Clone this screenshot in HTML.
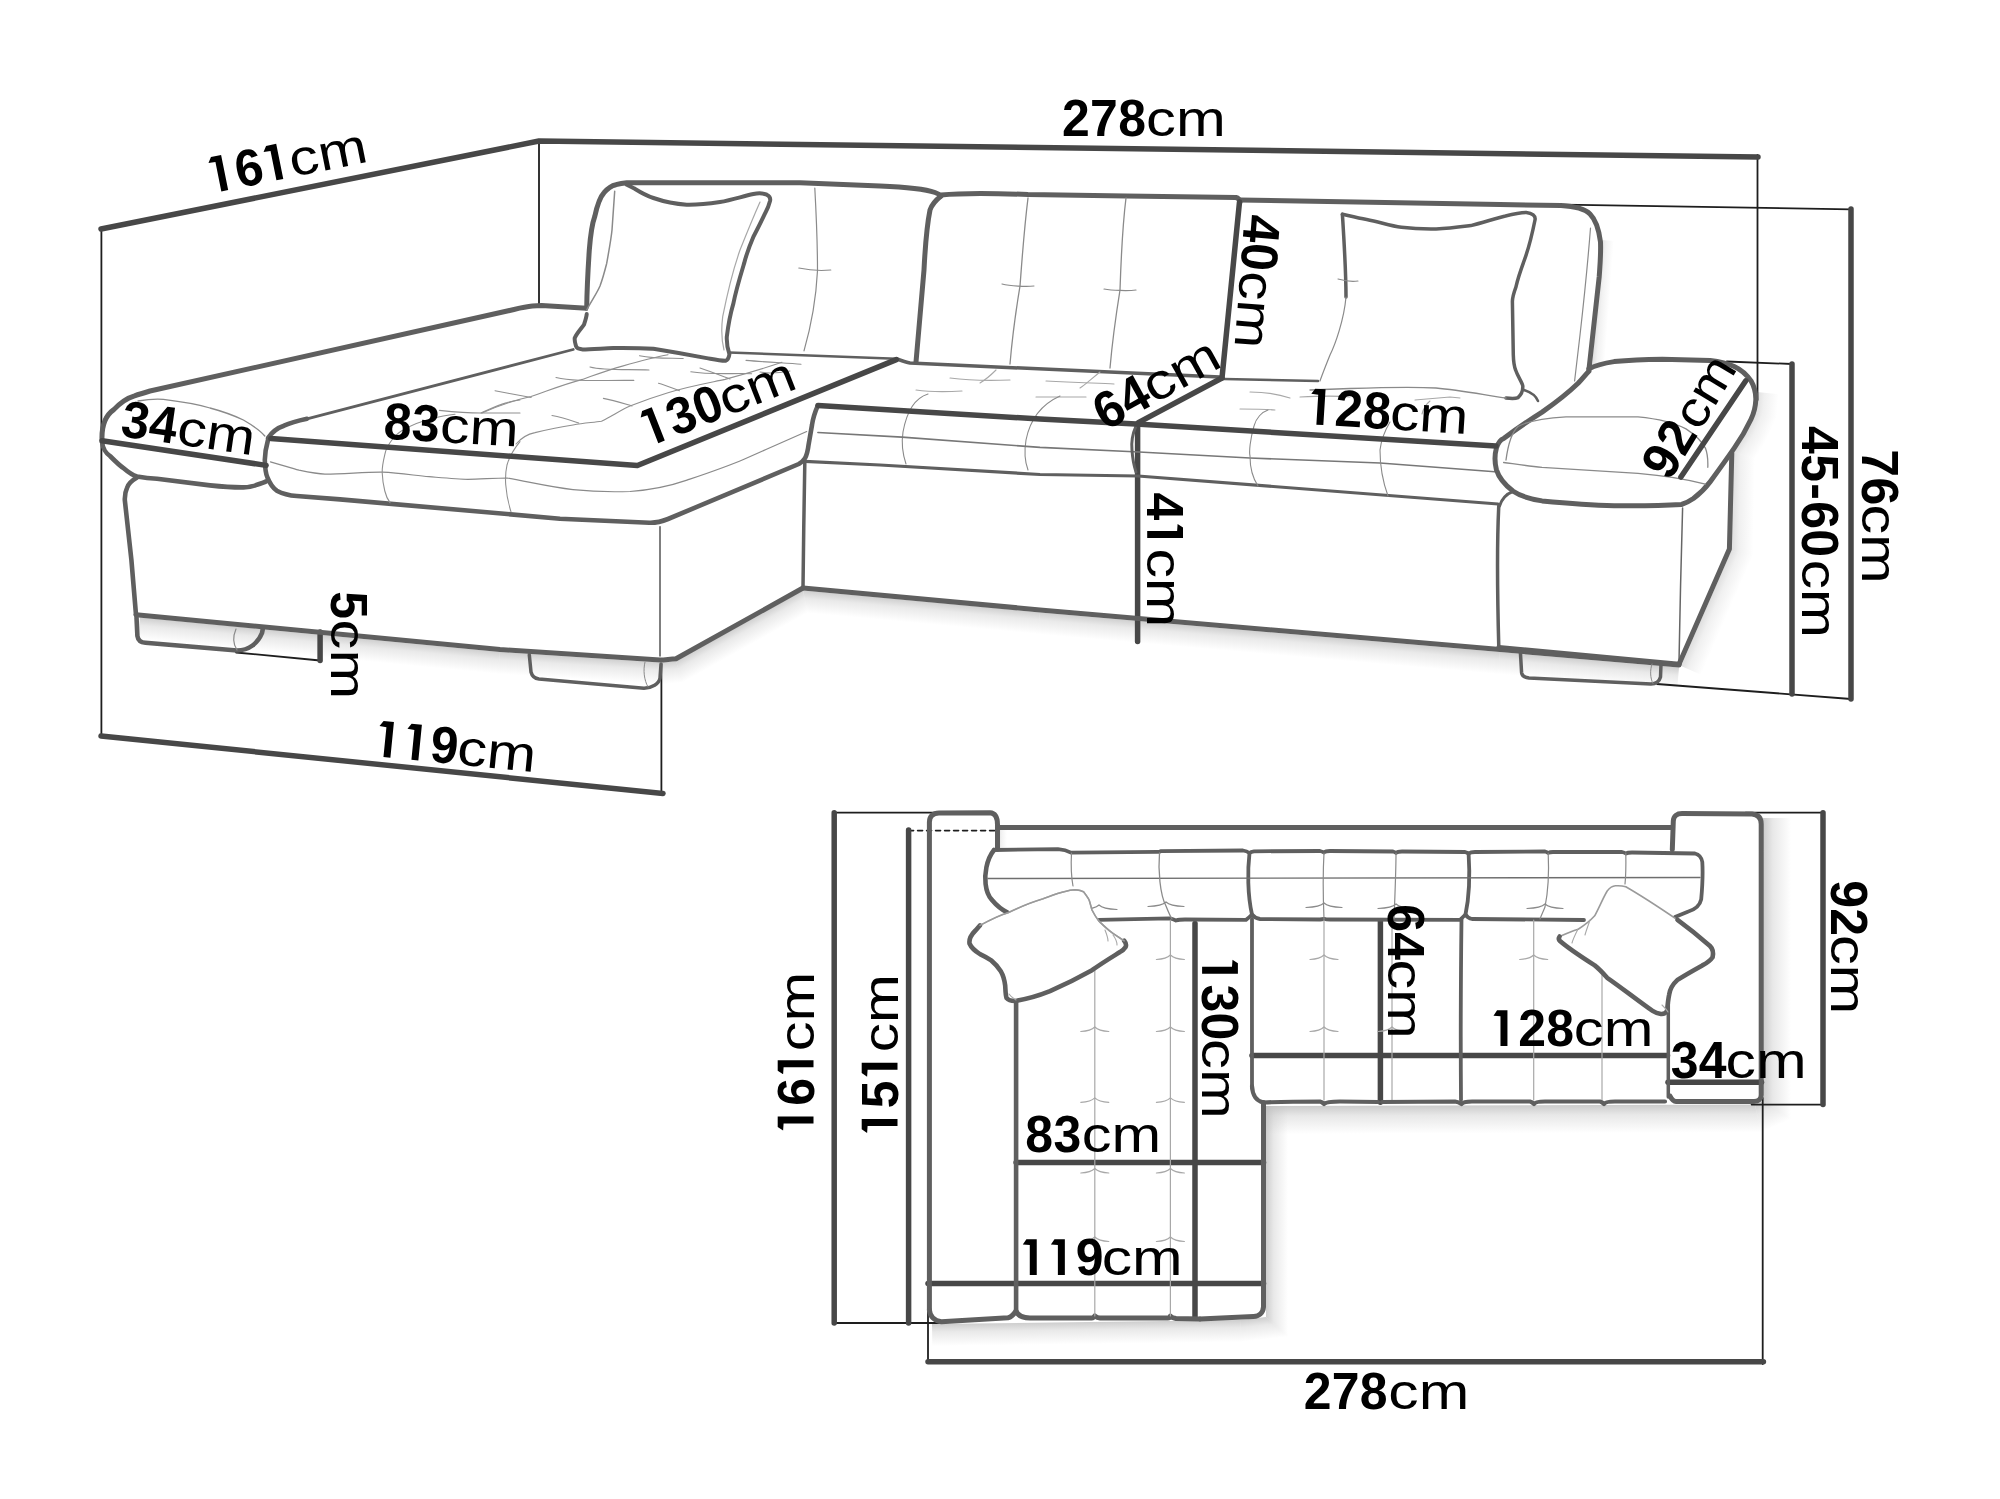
<!DOCTYPE html>
<html><head><meta charset="utf-8"><style>
html,body{margin:0;padding:0;background:#fff;}
svg{display:block}
text{font-family:"Liberation Sans",sans-serif;fill:#000;}
path{stroke-linecap:round;stroke-linejoin:round;}
</style></head><body>
<svg width="2000" height="1499" viewBox="0 0 2000 1499">
<rect width="2000" height="1499" fill="#fff"/>
<defs>
<filter id="bl" x="-20%" y="-50%" width="140%" height="200%"><feGaussianBlur stdDeviation="6"/></filter>
<filter id="bl2" x="-20%" y="-50%" width="140%" height="200%"><feGaussianBlur stdDeviation="4"/></filter>
</defs>
<linearGradient id="sg1" gradientUnits="userSpaceOnUse" x1="140.0" y1="617.5" x2="137.9" y2="639.4"><stop offset="0" stop-color="#bdbdbd" stop-opacity="0.72"/><stop offset="0.35" stop-color="#bdbdbd" stop-opacity="0.324"/><stop offset="1" stop-color="#bdbdbd" stop-opacity="0"/></linearGradient>
<path d="M140.0,617.5 L500.0,652.0 L498.2,673.9 L137.9,639.4 Z" fill="url(#sg1)" stroke="none"/>
<linearGradient id="sg2" gradientUnits="userSpaceOnUse" x1="500.0" y1="652.0" x2="498.6" y2="674.0"><stop offset="0" stop-color="#bdbdbd" stop-opacity="0.72"/><stop offset="0.35" stop-color="#bdbdbd" stop-opacity="0.324"/><stop offset="1" stop-color="#bdbdbd" stop-opacity="0"/></linearGradient>
<path d="M500.0,652.0 L660.0,662.5 L660.3,684.6 L498.2,673.9 Z" fill="url(#sg2)" stroke="none"/>
<linearGradient id="sg3" gradientUnits="userSpaceOnUse" x1="660.0" y1="662.5" x2="662.1" y2="684.4"><stop offset="0" stop-color="#bdbdbd" stop-opacity="0.72"/><stop offset="0.35" stop-color="#bdbdbd" stop-opacity="0.324"/><stop offset="1" stop-color="#bdbdbd" stop-opacity="0"/></linearGradient>
<path d="M660.0,662.5 L676.0,661.0 L682.6,682.5 L660.3,684.6 Z" fill="url(#sg3)" stroke="none"/>
<linearGradient id="sg4" gradientUnits="userSpaceOnUse" x1="676.0" y1="661.0" x2="686.7" y2="680.2"><stop offset="0" stop-color="#bdbdbd" stop-opacity="0.72"/><stop offset="0.35" stop-color="#bdbdbd" stop-opacity="0.324"/><stop offset="1" stop-color="#bdbdbd" stop-opacity="0"/></linearGradient>
<path d="M676.0,661.0 L803.0,590.5 L807.7,613.0 L682.6,682.5 Z" fill="url(#sg4)" stroke="none"/>
<linearGradient id="sg5" gradientUnits="userSpaceOnUse" x1="803.0" y1="590.5" x2="801.0" y2="612.4"><stop offset="0" stop-color="#bdbdbd" stop-opacity="0.72"/><stop offset="0.35" stop-color="#bdbdbd" stop-opacity="0.324"/><stop offset="1" stop-color="#bdbdbd" stop-opacity="0"/></linearGradient>
<path d="M803.0,590.5 L1040.0,612.4 L1038.0,634.3 L807.7,613.0 Z" fill="url(#sg5)" stroke="none"/>
<linearGradient id="sg6" gradientUnits="userSpaceOnUse" x1="1040.0" y1="612.4" x2="1038.1" y2="634.3"><stop offset="0" stop-color="#bdbdbd" stop-opacity="0.72"/><stop offset="0.35" stop-color="#bdbdbd" stop-opacity="0.324"/><stop offset="1" stop-color="#bdbdbd" stop-opacity="0"/></linearGradient>
<path d="M1040.0,612.4 L1500.0,652.1 L1498.1,674.0 L1038.0,634.3 Z" fill="url(#sg6)" stroke="none"/>
<linearGradient id="sg7" gradientUnits="userSpaceOnUse" x1="1500.0" y1="652.1" x2="1498.1" y2="674.0"><stop offset="0" stop-color="#bdbdbd" stop-opacity="0.72"/><stop offset="0.35" stop-color="#bdbdbd" stop-opacity="0.324"/><stop offset="1" stop-color="#bdbdbd" stop-opacity="0"/></linearGradient>
<path d="M1500.0,652.1 L1679.0,667.5 L1677.1,689.4 L1498.1,674.0 Z" fill="url(#sg7)" stroke="none"/>
<linearGradient id="sg8" gradientUnits="userSpaceOnUse" x1="1757.0" y1="392.0" x2="1778.9" y2="394.2"><stop offset="0" stop-color="#bdbdbd" stop-opacity="0.5"/><stop offset="0.35" stop-color="#bdbdbd" stop-opacity="0.225"/><stop offset="1" stop-color="#bdbdbd" stop-opacity="0"/></linearGradient>
<path d="M1757.0,392.0 L1755.0,412.0 L1776.5,417.8 L1778.9,394.2 Z" fill="url(#sg8)" stroke="none"/>
<linearGradient id="sg9" gradientUnits="userSpaceOnUse" x1="1755.0" y1="412.0" x2="1775.1" y2="421.0"><stop offset="0" stop-color="#bdbdbd" stop-opacity="0.5"/><stop offset="0.35" stop-color="#bdbdbd" stop-opacity="0.225"/><stop offset="1" stop-color="#bdbdbd" stop-opacity="0"/></linearGradient>
<path d="M1755.0,412.0 L1746.0,432.0 L1765.4,442.6 L1776.5,417.8 Z" fill="url(#sg9)" stroke="none"/>
<linearGradient id="sg10" gradientUnits="userSpaceOnUse" x1="1746.0" y1="432.0" x2="1764.4" y2="444.0"><stop offset="0" stop-color="#bdbdbd" stop-opacity="0.5"/><stop offset="0.35" stop-color="#bdbdbd" stop-opacity="0.225"/><stop offset="1" stop-color="#bdbdbd" stop-opacity="0"/></linearGradient>
<path d="M1746.0,432.0 L1733.0,452.0 L1754.9,458.7 L1765.4,442.6 Z" fill="url(#sg10)" stroke="none"/>
<linearGradient id="sg11" gradientUnits="userSpaceOnUse" x1="1733.0" y1="452.0" x2="1755.0" y2="452.4"><stop offset="0" stop-color="#bdbdbd" stop-opacity="0.5"/><stop offset="0.35" stop-color="#bdbdbd" stop-opacity="0.225"/><stop offset="1" stop-color="#bdbdbd" stop-opacity="0"/></linearGradient>
<path d="M1733.0,452.0 L1731.0,551.0 L1752.9,555.8 L1754.9,458.7 Z" fill="url(#sg11)" stroke="none"/>
<linearGradient id="sg12" gradientUnits="userSpaceOnUse" x1="1731.0" y1="551.0" x2="1751.2" y2="559.8"><stop offset="0" stop-color="#bdbdbd" stop-opacity="0.5"/><stop offset="0.35" stop-color="#bdbdbd" stop-opacity="0.225"/><stop offset="1" stop-color="#bdbdbd" stop-opacity="0"/></linearGradient>
<path d="M1731.0,551.0 L1681.0,666.0 L1701.2,674.8 L1752.9,555.8 Z" fill="url(#sg12)" stroke="none"/>
<linearGradient id="sg13" gradientUnits="userSpaceOnUse" x1="1602.0" y1="240.0" x2="1614.0" y2="240.9"><stop offset="0" stop-color="#bdbdbd" stop-opacity="0.45"/><stop offset="0.35" stop-color="#bdbdbd" stop-opacity="0.2025"/><stop offset="1" stop-color="#bdbdbd" stop-opacity="0"/></linearGradient>
<path d="M1602.0,240.0 L1592.0,368.0 L1604.0,368.9 L1614.0,240.9 Z" fill="url(#sg13)" stroke="none"/>
<linearGradient id="sg14" gradientUnits="userSpaceOnUse" x1="1266.0" y1="1106.0" x2="1288.0" y2="1106.0"><stop offset="0" stop-color="#bdbdbd" stop-opacity="0.75"/><stop offset="0.35" stop-color="#bdbdbd" stop-opacity="0.3375"/><stop offset="1" stop-color="#bdbdbd" stop-opacity="0"/></linearGradient>
<path d="M1266.0,1106.0 L1266.0,1317.0 L1288.0,1336.6 L1288.0,1106.0 Z" fill="url(#sg14)" stroke="none"/>
<linearGradient id="sg15" gradientUnits="userSpaceOnUse" x1="1266.0" y1="1317.0" x2="1268.5" y2="1338.9"><stop offset="0" stop-color="#bdbdbd" stop-opacity="0.75"/><stop offset="0.35" stop-color="#bdbdbd" stop-opacity="0.3375"/><stop offset="1" stop-color="#bdbdbd" stop-opacity="0"/></linearGradient>
<path d="M1266.0,1317.0 L1240.0,1320.0 L1241.4,1342.0 L1288.0,1336.6 Z" fill="url(#sg15)" stroke="none"/>
<linearGradient id="sg16" gradientUnits="userSpaceOnUse" x1="1240.0" y1="1320.0" x2="1240.3" y2="1342.0"><stop offset="0" stop-color="#bdbdbd" stop-opacity="0.75"/><stop offset="0.35" stop-color="#bdbdbd" stop-opacity="0.3375"/><stop offset="1" stop-color="#bdbdbd" stop-opacity="0"/></linearGradient>
<path d="M1240.0,1320.0 L932.0,1324.0 L932.3,1346.0 L1241.4,1342.0 Z" fill="url(#sg16)" stroke="none"/>
<linearGradient id="sg17" gradientUnits="userSpaceOnUse" x1="1763.0" y1="818.0" x2="1791.0" y2="818.0"><stop offset="0" stop-color="#bdbdbd" stop-opacity="0.78"/><stop offset="0.35" stop-color="#bdbdbd" stop-opacity="0.35100000000000003"/><stop offset="1" stop-color="#bdbdbd" stop-opacity="0"/></linearGradient>
<path d="M1763.0,818.0 L1763.0,1101.0 L1791.0,1119.3 L1791.0,818.0 Z" fill="url(#sg17)" stroke="none"/>
<linearGradient id="sg18" gradientUnits="userSpaceOnUse" x1="1763.0" y1="1101.0" x2="1774.2" y2="1126.7"><stop offset="0" stop-color="#bdbdbd" stop-opacity="0.78"/><stop offset="0.35" stop-color="#bdbdbd" stop-opacity="0.35100000000000003"/><stop offset="1" stop-color="#bdbdbd" stop-opacity="0"/></linearGradient>
<path d="M1763.0,1101.0 L1755.0,1104.5 L1760.9,1132.5 L1791.0,1119.3 Z" fill="url(#sg18)" stroke="none"/>
<linearGradient id="sg19" gradientUnits="userSpaceOnUse" x1="1755.0" y1="1104.5" x2="1755.1" y2="1132.5"><stop offset="0" stop-color="#bdbdbd" stop-opacity="0.78"/><stop offset="0.35" stop-color="#bdbdbd" stop-opacity="0.35100000000000003"/><stop offset="1" stop-color="#bdbdbd" stop-opacity="0"/></linearGradient>
<path d="M1755.0,1104.5 L1266.0,1106.0 L1266.1,1134.0 L1760.9,1132.5 Z" fill="url(#sg19)" stroke="none"/>
<linearGradient id="sg20" gradientUnits="userSpaceOnUse" x1="999.0" y1="849.0" x2="1007.0" y2="849.0"><stop offset="0" stop-color="#bdbdbd" stop-opacity="0.4"/><stop offset="0.35" stop-color="#bdbdbd" stop-opacity="0.18000000000000002"/><stop offset="1" stop-color="#bdbdbd" stop-opacity="0"/></linearGradient>
<path d="M999.0,849.0 L999.0,828.0 L1007.0,828.0 L1007.0,849.0 Z" fill="url(#sg20)" stroke="none"/>
<path d="M101.4,229 L101.4,737" stroke="#1e1e1e" stroke-width="1.8"  fill="none"/>
<path d="M539,141 L539,307" stroke="#1e1e1e" stroke-width="1.8"  fill="none"/>
<path d="M661.4,664 L661.4,795" stroke="#1e1e1e" stroke-width="1.8"  fill="none"/>
<path d="M1757.5,155 L1757.5,400" stroke="#1e1e1e" stroke-width="1.8"  fill="none"/>
<path d="M1562.7,204.6 L1851,209.4" stroke="#1e1e1e" stroke-width="1.8"  fill="none"/>
<path d="M1726.8,361.5 L1792,364" stroke="#1e1e1e" stroke-width="1.8"  fill="none"/>
<path d="M1657,684 L1851,699" stroke="#1e1e1e" stroke-width="1.8"  fill="none"/>
<path d="M236,652.5 L320,660.5" stroke="#1e1e1e" stroke-width="1.8"  fill="none"/>
<path d="M101,229 L539,141 L1758,157" stroke="#474747" stroke-width="5.5"  fill="none"/>
<path d="M101,736 L663,793.5" stroke="#474747" stroke-width="5.5"  fill="none"/>
<path d="M1851,209 L1851,699" stroke="#474747" stroke-width="5.5"  fill="none"/>
<path d="M1792,364 L1792,694" stroke="#474747" stroke-width="5.5"  fill="none"/>
<path d="M1137.6,425 L1137.6,641.5" stroke="#474747" stroke-width="5.5"  fill="none"/>
<path d="M320.1,632 L320.1,660.5" stroke="#474747" stroke-width="5.5"  fill="none"/>
<path d="M102,440 C101.5,425 106,415 113.8,409.6 C120,403 127,398 134.5,395.8 C140,394 145,392.5 150,391 L514,309.5 C522,307.6 528,306.5 532.4,306.1 C536,305.7 539,305.6 541.6,305.6 L586.7,308.2" stroke="#5f5f5f" stroke-width="5"  fill="none"/>
<path d="M586.7,308.2 C587,285 588.5,262 589.3,250 C590.5,235 592,224 594.7,216.7 C597,206 600,197 604,192.7 C608,188 612,185.5 616,184.7 C620,183.5 623,183 626.7,182.7 L800,182.7 L880,186 C905,187 925,189 935,192.5 C938,193.5 940,195 941,196" stroke="#5f5f5f" stroke-width="5"  fill="none"/>
<path d="M102,442 C103,450 106,453 110,456 C116,462 120,466 123.4,468 C128,472 132,475 137,476.5 C145,478 150,478.5 157,478.7 L210,485.4 C225,487 235,487.5 243.4,487.4 C250,487 254,486 257,484.7 C261,483.5 264,482.5 266.1,481.4" stroke="#5f5f5f" stroke-width="4.6"  fill="none"/>
<path d="M138,401 C150,399 158,399 163.4,399.4 C185,402 200,405 210,408 C225,412 235,416 243.4,420 C252,425 260,430 264.8,436" stroke="#8a8a8a" stroke-width="1.3"  fill="none"/>
<path d="M137,477.5 C131,481 128,484 127,488 C125,492 124.7,496 124.8,500 L131.4,560 L136,614.8" stroke="#5f5f5f" stroke-width="4.6"  fill="none"/>
<path d="M136.5,617.5 L137.4,636 C138,640 141,642.5 145.4,642.8 L237,650.5 C249,650.5 258,643 262,633 L263,628" stroke="#5f5f5f" stroke-width="4.6"  fill="none"/>
<path d="M236,629 C233,636 233,644 237,650" stroke="#8a8a8a" stroke-width="1.2"  fill="none"/>
<path d="M268,438 C272,432 277,428 284,425.7 C292,422 299,420.5 307,418.8" stroke="#5f5f5f" stroke-width="4.6"  fill="none"/>
<path d="M307,418.8 L573.2,349.5" stroke="#5f5f5f" stroke-width="2.8"  fill="none"/>
<path d="M268,440 C266,447 265,453 264.8,460 C265,468 265.5,473 267.4,477.4 C270,484 273,488 276.8,490.7 C283,494 290,495.5 296.8,496 L340,499.4 L560,518.7 L649.4,522.7 C657,523 663,521 668,519 L798.8,464 C804,461 807,458 808.6,444.6 L812,425 C813,418 815,412 817.9,405.4" stroke="#5f5f5f" stroke-width="4.6"  fill="none"/>
<path d="M270.4,461.8 C285,466 292,468.5 299,470.2 C310,472.5 318,474 325,474.1 C345,474 365,472 382.2,472.2 C400,473 415,475.5 429,476.7 C445,478 458,479.2 468,479.3 C480,479.2 495,478 507,478 C530,482 550,487 573,489.6 C595,492 615,492 630,491.5 C650,490 670,486 687,480.1 C708,473 726,467 744,459.2 C765,450 785,441 806.7,431.5" stroke="#8a8a8a" stroke-width="1.2"  fill="none"/>
<path d="M392.6,439 C388,445 385.5,450 384.8,454.6 C383,462 382,468 382.2,472.8 C382.5,480 383.5,486 384.8,491 C386,496 388,500 390,502.7" stroke="#909090" stroke-width="1.1"  fill="none"/>
<path d="M520,441.6 C513,450 509,458 507,465 C505.5,472 505.3,479 505.7,484.5 C506.5,495 508.5,504 511,511.8" stroke="#909090" stroke-width="1.1"  fill="none"/>
<path d="M392.6,439 C396,435 399,432 403,430 C412,425 420,421.5 429,419.5 C438,417 447,415 455,414.3" stroke="#909090" stroke-width="1.1"  fill="none"/>
<path d="M439.4,410.4 C455,412 470,413 481,413 L520,413" stroke="#909090" stroke-width="1.1"  fill="none"/>
<path d="M481,413 C490,409 498,405 507,402.6 C512,401 516,400.5 520,400" stroke="#909090" stroke-width="1.1"  fill="none"/>
<path d="M482,413 C500,405 515,400 531,396.5 C550,390 565,384 582.5,379.4 C595,375 608,370 622.4,366.1 C640,361 655,357 668,354.7" stroke="#909090" stroke-width="1.1"  fill="none"/>
<path d="M516,444 C522,437 528,434 535,432.6 C550,429 560,427 573,425 C585,423 593,422.5 601.5,421.2 C612,416 621,410 630,406 C645,400 657,396 668,392.7 C690,386 708,383 725,379.4 C745,374 765,368 782,362.3" stroke="#909090" stroke-width="1.1"  fill="none"/>
<path d="M556,377.5 C575,382 600,380 633.8,380.4" stroke="#909090" stroke-width="1.1"  fill="none"/>
<path d="M590,367 C605,371 630,369 649,370" stroke="#909090" stroke-width="1.1"  fill="none"/>
<path d="M639.5,355.7 C655,359 670,358 683.2,358.5" stroke="#909090" stroke-width="1.1"  fill="none"/>
<path d="M690.8,371.8 C710,375 735,373 751.6,373.7" stroke="#909090" stroke-width="1.1"  fill="none"/>
<path d="M658.5,383.2 C665,385 672,388 679.4,390.8" stroke="#909090" stroke-width="1.1"  fill="none"/>
<path d="M603.4,398.4 C613,400 622,403 632,406" stroke="#909090" stroke-width="1.1"  fill="none"/>
<path d="M552,415.5 C562,417 570,420 578.7,423.1" stroke="#909090" stroke-width="1.1"  fill="none"/>
<path d="M495,390.8 C507,393 520,395.5 531.2,397.5" stroke="#909090" stroke-width="1.1"  fill="none"/>
<path d="M746,360.4 C765,362 785,363 801,364.2" stroke="#909090" stroke-width="1.1"  fill="none"/>
<path d="M700,368 C712,372 722,376 730,379" stroke="#909090" stroke-width="1.1"  fill="none"/>
<path d="M760,372 C770,374 780,373 790,371" stroke="#909090" stroke-width="1.1"  fill="none"/>
<path d="M814.8,188 C816,210 817.5,240 817.5,270.8 C816,300 810,330 804,350.8" stroke="#8a8a8a" stroke-width="1.2"  fill="none"/>
<path d="M798.8,268 C808,270 820,271 830.8,270" stroke="#8a8a8a" stroke-width="1.1"  fill="none"/>
<path d="M660,526.7 L660,656" stroke="#555" stroke-width="1.5"  fill="none"/>
<path d="M136,614.8 L500,649.5 L660,660 C665,660 670,659 676,658.8 L803,588" stroke="#5f5f5f" stroke-width="5"  fill="none"/>
<path d="M529.3,654.8 L531,672 C532,676 535,678.5 539,679 L644,688.2 C652,688 659,684 660,678 L661,664" stroke="#5f5f5f" stroke-width="3.5"  fill="none"/>
<path d="M645,662 C643,670 644,680 648,687" stroke="#8a8a8a" stroke-width="1"  fill="none"/>
<path d="M729,352.5 L896.3,358.7" stroke="#5f5f5f" stroke-width="2.6"  fill="none"/>
<path d="M620,349 L700,351" stroke="#8a8a8a" stroke-width="1.2"  fill="none"/>
<path d="M626.7,184.7 C630,186 632,187.5 634.7,188.7 C640,192 646,195.5 653.4,198 C665,202 675,204 686.7,204.7 C700,205 710,203.5 720,202 C732,200 742,196.5 753.4,194 C758,193 763,193 766.8,194.7 C769.5,196 770.5,198.5 770.1,200.7 C769,205 767.5,209 765.4,212.7 C761,222 757,230 753.4,236.7 C749,247 746,256 744.1,263.4 C740,277 736,290 733.4,303.4 C730,315 728,327 726.8,336.8 C726.5,344 728,350 729.4,354.1 C729,358 727.5,360 725.4,360.8 C719,360.5 712,359 706.7,358.1 C690,355 670,351.5 653.4,348.8 C640,348 625,348 613.4,348.1 C603,348.5 590,349.3 582.7,349.4 C578.5,349.2 576.5,348 576,346.1 C575,343 574.5,340 574.7,338.1 C577,333 581,329 584,324.7 C585.5,320 586.5,317 586.7,314.1" stroke="#5f5f5f" stroke-width="4" fill="#fff"/>
<path d="M586.7,310 C592,300 597,293 600,286 C603,278 605,270 606.7,263.4 C609,250 611,240 612,230 C613,215 614,200 614.7,191.3" stroke="#8a8a8a" stroke-width="1.5"  fill="none"/>
<path d="M760,202 C752,220 746,235 740,250 C733,270 727,295 722.7,316.7 C721,330 722,342 724,350" stroke="#a8a8a8" stroke-width="1.2"  fill="none"/>
<path d="M941,196 C936,200 932,204 930,210 C927,225 925,250 924,270 L916,362" stroke="#5f5f5f" stroke-width="5"  fill="none"/>
<path d="M941,195 C960,193 990,193 1028,194.5 L1126,196 L1236,197.5 C1238,198 1239.5,199.5 1240,202" stroke="#5f5f5f" stroke-width="5"  fill="none"/>
<path d="M896.3,358.7 C900,360 905,362 910,363 L1220,377" stroke="#5f5f5f" stroke-width="3.5"  fill="none"/>
<path d="M1028,198 C1024,230 1022,260 1020,286 C1016,310 1012,340 1010,364" stroke="#8a8a8a" stroke-width="1.3"  fill="none"/>
<path d="M1126,198 C1122,230 1121,260 1120,290 C1116,315 1112,345 1110,368" stroke="#8a8a8a" stroke-width="1.3"  fill="none"/>
<path d="M1002,284 C1010,286 1026,287 1034,286" stroke="#8a8a8a" stroke-width="1.2"  fill="none"/>
<path d="M1104,289 C1112,290.5 1128,291 1136,290" stroke="#8a8a8a" stroke-width="1.2"  fill="none"/>
<path d="M996,370 C990,376 985,380 980,383" stroke="#a8a8a8" stroke-width="1.1"  fill="none"/>
<path d="M950,378 C965,380 985,381 1010,380" stroke="#a8a8a8" stroke-width="1.1"  fill="none"/>
<path d="M916,390 C930,392 945,392 962,391" stroke="#a8a8a8" stroke-width="1.1"  fill="none"/>
<path d="M1046,381 C1080,383 1100,383 1114,384" stroke="#a8a8a8" stroke-width="1.1"  fill="none"/>
<path d="M1036,397 C1055,397 1070,397 1086,397" stroke="#a8a8a8" stroke-width="1.1"  fill="none"/>
<path d="M1100,372 C1090,380 1085,385 1080,388" stroke="#a8a8a8" stroke-width="1.1"  fill="none"/>
<path d="M928,394 C915,398 907,410 903,432 C901,445 903,455 906,464" stroke="#8a8a8a" stroke-width="1.1"  fill="none"/>
<path d="M1060,396 C1040,405 1030,420 1026,440 C1024,452 1025,462 1028,470" stroke="#8a8a8a" stroke-width="1.1"  fill="none"/>
<path d="M817.9,432.5 L902,437.1 L1040,447.4 L1139,452 L1250,458 L1380,463 L1498,472" stroke="#777" stroke-width="1.6"  fill="none"/>
<path d="M804.8,461.4 L880,465 L1040,474.5 L1138,476 L1498,504" stroke="#5f5f5f" stroke-width="3.2"  fill="none"/>
<path d="M804.8,463.3 C804,500 803.5,550 803,588" stroke="#5f5f5f" stroke-width="3.5"  fill="none"/>
<path d="M803,588 L1040,609.9 L1500,649.6 L1679,665" stroke="#5f5f5f" stroke-width="5"  fill="none"/>
<path d="M1136,426 C1132,435 1131.5,445 1132,450 C1132.5,458 1134,466 1136,472" stroke="#5f5f5f" stroke-width="3"  fill="none"/>
<path d="M1240,200 L1500,204.5 L1561,205.6 C1575,206.5 1585,209 1590,214 C1596,220 1599,230 1600.5,242 C1601,255 1600,265 1599.2,276.7 L1588.9,370" stroke="#5f5f5f" stroke-width="5"  fill="none"/>
<path d="M1590.5,228 C1588,260 1584,300 1580,335 L1574.6,381" stroke="#8a8a8a" stroke-width="1.2"  fill="none"/>
<path d="M1224,379 L1318,381" stroke="#5f5f5f" stroke-width="2.6"  fill="none"/>
<path d="M1342.4,214.3 C1350,216 1358,218 1366.7,219.5 C1380,222 1390,226 1401.4,227.3 C1415,229 1425,229.2 1436.1,229 C1450,228.5 1460,227 1470.8,225.6 C1482,223 1495,218.5 1505.5,216 C1515,213.5 1520,212.5 1526.3,212.5 C1532,213 1536,216 1535,220 C1532,235 1528,250 1524.6,259.4 C1520,272 1517,282 1515.9,287.1 C1513,295 1512.3,299 1512.4,302 L1513.3,354.8 C1513.5,362 1514,366 1515.6,370 C1518,377 1522,382 1522.8,386 C1523,391 1521,395 1518,397.6 C1515,399 1510,398.5 1506,398" stroke="#5f5f5f" stroke-width="3.5"  fill="none"/>
<path d="M1342.4,214.3 C1344,240 1346,270 1346,297" stroke="#5f5f5f" stroke-width="3.5"  fill="none"/>
<path d="M1346,297 C1344,320 1335,345 1330,355 C1326,365 1322,375 1320,381" stroke="#8a8a8a" stroke-width="1.2"  fill="none"/>
<path d="M1506,398 C1490,396 1460,390 1436,388 C1410,386.5 1380,387.5 1350,388.5 L1310,390" stroke="#8a8a8a" stroke-width="1.3"  fill="none"/>
<path d="M1524,390 C1530,392 1536,396 1538,401" stroke="#5f5f5f" stroke-width="2.5"  fill="none"/>
<path d="M1338,279 C1345,281 1352,282 1358,281" stroke="#8a8a8a" stroke-width="1.1"  fill="none"/>
<path d="M1250,392 C1265,392 1278,394 1290,398" stroke="#a8a8a8" stroke-width="1.1"  fill="none"/>
<path d="M1240,409 C1255,409 1265,409 1275,410" stroke="#a8a8a8" stroke-width="1.1"  fill="none"/>
<path d="M1268,410 C1262,412 1256,418 1254,426 C1250,440 1249,452 1250,456 C1250,470 1254,480 1258,486" stroke="#8a8a8a" stroke-width="1.1"  fill="none"/>
<path d="M1390,422 C1384,432 1381,442 1380,450 C1380,470 1384,485 1388,496" stroke="#8a8a8a" stroke-width="1.1"  fill="none"/>
<path d="M1415,400 L1450,397 L1460,398" stroke="#a8a8a8" stroke-width="1.1"  fill="none"/>
<path d="M1430,401 C1425,405 1423,410 1422,414" stroke="#a8a8a8" stroke-width="1.1"  fill="none"/>
<path d="M1300,397 C1320,396 1340,396 1350,397" stroke="#a8a8a8" stroke-width="1.1"  fill="none"/>
<path d="M1588.9,368.8 C1597,364.5 1605,363 1614.1,361.6 C1630,360 1645,359.4 1662.2,359.2 L1710.2,360.4 C1720,361.5 1728,363.5 1734.2,366.4 C1742,370 1747,375 1751,380.8 C1754.5,387 1756,394 1755.8,400 C1755.5,407 1754,413 1751,419.3 C1746,430 1740,440 1734.2,448.1 C1726,460 1718,471 1710.2,481.7 C1704,490 1698,495 1693.4,498.5 C1689,501.5 1685,503.5 1681.4,504.5 C1660,505.8 1640,506 1614.1,505.7 C1590,505 1565,503 1542.1,500.9 C1530,499 1520,496 1513.2,491.3 C1505,485 1499,478 1496.4,469.7 C1494.5,462 1494.5,455 1496.4,448.1 C1498,443 1500,440 1503.6,438.5 C1515,430 1528,421 1542.1,412.1 C1555,403 1568,393 1578.1,383.2 C1583,378 1586,374 1588.9,371.2" stroke="#5f5f5f" stroke-width="5"  fill="none"/>
<path d="M1506,460 C1508,445 1512,432 1518,426.5 C1530,420 1545,418 1566,416.9 L1638,416.9 C1660,419 1675,423 1686,428.9 C1697,436 1702,442 1705.4,448.1 C1708,455 1708,462 1707.8,467.3" stroke="#8a8a8a" stroke-width="1.3"  fill="none"/>
<path d="M1503.6,462.5 C1515,464 1528,466 1542,467.3 L1638,473.3 C1670,476 1690,480 1705.4,484.1" stroke="#8a8a8a" stroke-width="1.3"  fill="none"/>
<path d="M1498.8,505.7 C1497,540 1497.5,600 1498.8,647.5" stroke="#5f5f5f" stroke-width="3.5"  fill="none"/>
<path d="M1682.6,508.1 C1681,560 1680,610 1679,661.9" stroke="#666" stroke-width="1.5"  fill="none"/>
<path d="M1731.8,452.9 L1729.4,549 L1679,664.3" stroke="#5f5f5f" stroke-width="5"  fill="none"/>
<path d="M1498.8,647.5 L1679,664.3" stroke="#5f5f5f" stroke-width="5"  fill="none"/>
<path d="M1513.2,491.3 C1506,494 1502,498 1499.5,506" stroke="#5f5f5f" stroke-width="3"  fill="none"/>
<path d="M1520.4,652.3 L1521.6,672.7 C1522,676 1525,677.5 1529,678 L1651,684 C1656,684 1659.5,681 1660.5,677 L1661,664.3" stroke="#5f5f5f" stroke-width="3.5"  fill="none"/>
<path d="M1652,664 C1650,670 1650,678 1653,683.5" stroke="#8a8a8a" stroke-width="1"  fill="none"/>
<path d="M102,440.7 L266.1,465.4" stroke="#474747" stroke-width="5.5"  fill="none"/>
<path d="M270.8,438.6 L637.4,465.5 L896.3,359.6" stroke="#474747" stroke-width="5.5"  fill="none"/>
<path d="M1222,378 L1138.3,422.6" stroke="#474747" stroke-width="5.5"  fill="none"/>
<path d="M1239.5,202 L1222,378" stroke="#474747" stroke-width="5.5"  fill="none"/>
<path d="M817.9,405.4 L1040,419 L1136,424 L1496,446" stroke="#474747" stroke-width="5.5"  fill="none"/>
<path d="M1745.8,380.8 L1680.9,477" stroke="#474747" stroke-width="5.5"  fill="none"/>
<path d="M834.2,812.7 L936,812.7" stroke="#1e1e1e" stroke-width="1.8"  fill="none"/>
<path d="M834.2,1323 L944,1323" stroke="#1e1e1e" stroke-width="1.8"  fill="none"/>
<path d="M928,1310 L928,1363" stroke="#1e1e1e" stroke-width="1.8"  fill="none"/>
<path d="M1762.7,1098 L1762.7,1364" stroke="#1e1e1e" stroke-width="1.8"  fill="none"/>
<path d="M1745.5,812.7 L1824.2,812.7" stroke="#1e1e1e" stroke-width="1.8"  fill="none"/>
<path d="M1751.6,1104.6 L1824.2,1104.6" stroke="#1e1e1e" stroke-width="1.8"  fill="none"/>
<path d="M908.6,830.6 L997.5,830.6" stroke="#1e1e1e" stroke-width="1.6" stroke-dasharray="5,4" fill="none"/>
<path d="M834.2,812.7 L834.2,1323" stroke="#474747" stroke-width="5.5"  fill="none"/>
<path d="M908.6,830 L908.6,1323" stroke="#474747" stroke-width="5.5"  fill="none"/>
<path d="M928,1361.8 L1763.4,1361.8" stroke="#474747" stroke-width="5.5"  fill="none"/>
<path d="M1823,812.7 L1823,1104.6" stroke="#474747" stroke-width="5.5"  fill="none"/>
<path d="M1016.1,1162.4 L1263.5,1162.4" stroke="#474747" stroke-width="5.5"  fill="none"/>
<path d="M928,1283.6 L1263.5,1283.6" stroke="#474747" stroke-width="5.5"  fill="none"/>
<path d="M1195,923.4 L1195,1317" stroke="#474747" stroke-width="5.5"  fill="none"/>
<path d="M1380.4,920.7 L1380.4,1102.2" stroke="#474747" stroke-width="5.5"  fill="none"/>
<path d="M1252,1055.5 L1667.5,1055.5" stroke="#474747" stroke-width="5.5"  fill="none"/>
<path d="M1668,1082.3 L1761.5,1082.3" stroke="#474747" stroke-width="5.5"  fill="none"/>
<path d="M929.4,1310 L929.4,822 C929.4,816 933,813 939,813 L990,812.7 C995,813 997.5,817 997.5,824.7 L997.5,849" stroke="#5f5f5f" stroke-width="5"  fill="none"/>
<path d="M997.5,827.4 L1672.5,827.4" stroke="#5f5f5f" stroke-width="5"  fill="none"/>
<path d="M1672.3,849.6 L1673.3,821 C1673.5,816 1677,813.5 1682,813.5 L1752,814 C1758,814.5 1761.2,818 1761.2,824 L1761.2,1095 C1761.2,1099 1758,1101.5 1754,1101.5 L1676,1101.5 C1673,1101.5 1671.5,1099 1670,1096" stroke="#5f5f5f" stroke-width="5"  fill="none"/>
<path d="M1668.3,1003 L1668.3,1097" stroke="#5f5f5f" stroke-width="3.5"  fill="none"/>
<path d="M994,850 C986,860 984.5,875 985.6,884 C986.5,892 989,897 992,900 C997,906 1002,910 1008,912.8" stroke="#5f5f5f" stroke-width="4.6"  fill="none"/>
<path d="M994,850 L1058,849.1 C1063,849.5 1068,851 1071,852.6 L1157.8,851.9 C1159,852 1160,851.5 1160.6,851.2 L1243,850.5 C1246,851 1248,852 1249.5,853 C1250.5,852 1252,851.5 1254,851.3 L1320,851 C1322,851.5 1323,852 1324,852.5 C1325,851.5 1327,851 1330,851 L1393,851.5 C1394.5,852 1395.5,852.5 1396,853 C1397,852 1399,851.5 1402,851.5 L1465,852 C1466.5,852.5 1467.5,853 1468.6,853.5 C1470,852.5 1472,852 1475,852 L1545,851.5 C1546.5,852 1547.5,852.5 1548.2,853 C1549,852.5 1551,852 1553,852 L1622,852 C1624,852.5 1625,853 1625.8,853.5 C1627,852.8 1629,852.5 1632,852.5 L1695,853.5 C1699,854.5 1701.5,857.5 1702.3,862 C1702.8,870 1702.5,885 1701.2,899.3 C1700,905 1695,909.5 1687.8,911.7 L1675,917" stroke="#5f5f5f" stroke-width="3.8"  fill="none"/>
<path d="M1099,919.8 L1170,918.4 C1173,919 1175,920 1176,920.5 C1178,919.8 1180,919.5 1185,919.5 L1246,919.8 C1248,918.5 1250,916.5 1252,914.5 C1254,917 1256,918.5 1260,919 L1320,919.5 C1322,919.2 1323,919 1324,918.8 C1325,919.2 1327,919.5 1330,919.5 L1460,919.8 C1462,918 1464,916 1465.5,914.5 C1467,917 1469,918.5 1472,919 L1584,920" stroke="#5f5f5f" stroke-width="3.8"  fill="none"/>
<path d="M1249.5,853 C1247.5,870 1247.5,895 1252,914.5" stroke="#5f5f5f" stroke-width="3.8"  fill="none"/>
<path d="M1468.6,853.5 C1470,875 1469,898 1465.5,914.5" stroke="#5f5f5f" stroke-width="3.8"  fill="none"/>
<path d="M988,878.5 L1700,877.5" stroke="#6e6e6e" stroke-width="1.4"  fill="none"/>
<path d="M1071.5,853 C1071,862 1071.5,878 1073,886" stroke="#8a8a8a" stroke-width="1.2"  fill="none"/>
<path d="M1159.5,853 C1158,870 1160,895 1166,906 C1168,911 1170,916 1172,919" stroke="#8a8a8a" stroke-width="1.3"  fill="none"/>
<path d="M1324,853 C1323,870 1323,895 1324,919" stroke="#8a8a8a" stroke-width="1.2"  fill="none"/>
<path d="M1396,853 C1396,870 1395,895 1394,919" stroke="#8a8a8a" stroke-width="1.2"  fill="none"/>
<path d="M1548.2,853 C1549,870 1548,892 1545,907 C1543,912 1541,916 1540,919" stroke="#8a8a8a" stroke-width="1.2"  fill="none"/>
<path d="M1625.8,853 C1626,865 1626,875 1625,884" stroke="#8a8a8a" stroke-width="1.2"  fill="none"/>
<path d="M1148,906.5 Q1162,906 1166,902 Q1170,906 1184,906.5" stroke="#8a8a8a" stroke-width="1.2"  fill="none"/>
<path d="M1306,907.5 Q1320,907 1324,903 Q1328,907 1342,907.5" stroke="#8a8a8a" stroke-width="1.2"  fill="none"/>
<path d="M1378,908.5 Q1392,908 1396,904 Q1400,908 1414,908.5" stroke="#8a8a8a" stroke-width="1.2"  fill="none"/>
<path d="M1527,908.5 Q1541,908 1545,904 Q1549,908 1563,908.5" stroke="#8a8a8a" stroke-width="1.2"  fill="none"/>
<path d="M1081,909.5 Q1095,909 1099,905 Q1103,909 1117,909.5" stroke="#8a8a8a" stroke-width="1.2"  fill="none"/>
<path d="M1252,919 C1252.5,960 1251.5,1040 1252,1088" stroke="#5f5f5f" stroke-width="3.8"  fill="none"/>
<path d="M1461.5,919 C1461,960 1460.5,1040 1461,1100" stroke="#5f5f5f" stroke-width="3.8"  fill="none"/>
<path d="M1324,920 L1324,1100" stroke="#a8a8a8" stroke-width="1.2"  fill="none"/>
<path d="M1392,920 L1392,1100" stroke="#a8a8a8" stroke-width="1.2"  fill="none"/>
<path d="M1533.7,920 L1533.7,1100" stroke="#a8a8a8" stroke-width="1.2"  fill="none"/>
<path d="M1602,975 L1602,1100" stroke="#a8a8a8" stroke-width="1.2"  fill="none"/>
<path d="M1310,959.5 Q1320,959 1324,955 Q1328,959 1338,959.5" stroke="#a8a8a8" stroke-width="1.2"  fill="none"/>
<path d="M1310,1031.5 Q1320,1031 1324,1027 Q1328,1031 1338,1031.5" stroke="#a8a8a8" stroke-width="1.2"  fill="none"/>
<path d="M1519.7,959.5 Q1529.7,959 1533.7,955 Q1537.7,959 1547.7,959.5" stroke="#a8a8a8" stroke-width="1.2"  fill="none"/>
<path d="M1378,1031.5 Q1388,1031 1392,1027 Q1396,1031 1406,1031.5" stroke="#a8a8a8" stroke-width="1.2"  fill="none"/>
<path d="M1252,1086 C1252.5,1096 1256,1101 1263.5,1102.5 C1275,1102 1290,1101.5 1320,1101.5 C1322,1102 1323,1103 1324,1104 C1326,1102 1330,1101.5 1340,1101.5 L1378,1102 M1382,1102 L1455,1101.5 C1458,1102 1460,1103 1461.5,1104 C1463,1102 1466,1101.5 1472,1101.5 L1530,1101.5 C1532,1102 1533,1103 1534,1104 C1535,1102 1538,1101.5 1545,1101.5 L1600,1101.5 C1602,1102 1603,1103 1604,1104 C1605,1102 1608,1101.5 1615,1101.5 L1665,1101.5" stroke="#5f5f5f" stroke-width="4.2"  fill="none"/>
<path d="M1016.1,1000.8 L1016.1,1311" stroke="#5f5f5f" stroke-width="4.6"  fill="none"/>
<path d="M1263.5,1102.5 L1263.5,1307 C1263,1313 1259,1316.5 1253.4,1316.4 L1200,1319" stroke="#5f5f5f" stroke-width="5"  fill="none"/>
<path d="M929.4,1310 C930,1317 935,1321 941.4,1321.8 L1008,1317.8 C1012,1317 1014,1314 1016,1311 C1018,1316 1022,1318 1030,1318 L1092,1318 C1093,1318 1094,1317 1094.8,1316 C1096,1317 1097,1318 1100,1318 L1168,1318 C1169,1318 1170,1317 1170.4,1316 C1171,1317 1173,1318 1176,1318.5 L1200,1319" stroke="#5f5f5f" stroke-width="5"  fill="none"/>
<path d="M1094.8,920 L1094.8,1316" stroke="#a8a8a8" stroke-width="1.2"  fill="none"/>
<path d="M1170.4,920 L1170.4,1316" stroke="#a8a8a8" stroke-width="1.2"  fill="none"/>
<path d="M1080.8,959.5 Q1090.8,959 1094.8,955 Q1098.8,959 1108.8,959.5" stroke="#a8a8a8" stroke-width="1.2"  fill="none"/>
<path d="M1156.4,959.5 Q1166.4,959 1170.4,955 Q1174.4,959 1184.4,959.5" stroke="#a8a8a8" stroke-width="1.2"  fill="none"/>
<path d="M1080.8,1031.5 Q1090.8,1031 1094.8,1027 Q1098.8,1031 1108.8,1031.5" stroke="#a8a8a8" stroke-width="1.2"  fill="none"/>
<path d="M1156.4,1031.5 Q1166.4,1031 1170.4,1027 Q1174.4,1031 1184.4,1031.5" stroke="#a8a8a8" stroke-width="1.2"  fill="none"/>
<path d="M1080.8,1102.3 Q1090.8,1101.8 1094.8,1097.8 Q1098.8,1101.8 1108.8,1102.3" stroke="#a8a8a8" stroke-width="1.2"  fill="none"/>
<path d="M1156.4,1102.3 Q1166.4,1101.8 1170.4,1097.8 Q1174.4,1101.8 1184.4,1102.3" stroke="#a8a8a8" stroke-width="1.2"  fill="none"/>
<path d="M1080.8,1173.0 Q1090.8,1172.5 1094.8,1168.5 Q1098.8,1172.5 1108.8,1173.0" stroke="#a8a8a8" stroke-width="1.2"  fill="none"/>
<path d="M1156.4,1173.0 Q1166.4,1172.5 1170.4,1168.5 Q1174.4,1172.5 1184.4,1173.0" stroke="#a8a8a8" stroke-width="1.2"  fill="none"/>
<path d="M1080.8,1241.5 Q1090.8,1241 1094.8,1237 Q1098.8,1241 1108.8,1241.5" stroke="#a8a8a8" stroke-width="1.2"  fill="none"/>
<path d="M1156.4,1241.5 Q1166.4,1241 1170.4,1237 Q1174.4,1241 1184.4,1241.5" stroke="#a8a8a8" stroke-width="1.2"  fill="none"/>
<path d="M980,925.4 C990,920 1000,915 1008,912.8 C1020,907 1032,902 1043,898.8 C1052,895.5 1058,893 1064,891.8 C1068,890.5 1072,889.7 1075.2,889.7 C1079,890 1081.5,890.5 1083.6,891.8 C1086,895 1088,897.5 1089.2,900.2 C1090.5,904 1091,907 1092,910 C1094,914 1096,917.5 1099,921.2 C1103,925 1107,929 1111.6,932.4 C1115,935 1120,938 1124.2,940.8 C1126,943 1126.5,945 1125.6,947 C1124,949.5 1122,951 1120,952 C1112,957 1102,963 1092,970.2 C1078,978 1064,985 1050,991.2 C1038,996 1025,999.5 1015,1001 C1011,1001 1008,1000 1006.6,998.2 C1005.5,995 1005.5,990 1005.2,985.6 C1004.5,980 1003,975 1001,971.6 C998,967 995,963.5 991.2,960.4 C987,957.5 984,956 980,954.1 C975,951 971,947 969.5,943.5 C969,939.5 971,935 975,931 C977,929 978.5,927 980,925.4 Z" stroke="none" stroke-width="0" fill="#fff"/>
<path d="M980,925.4 C990,920 1000,915 1008,912.8 C1020,907 1032,902 1043,898.8 C1052,895.5 1058,893 1064,891.8 C1068,890.5 1072,889.7 1075.2,889.7 C1079,890 1081.5,890.5 1083.6,891.8 C1086,895 1088,897.5 1089.2,900.2 C1090.5,904 1091,907 1092,910 C1094,914 1096,917.5 1099,921.2 C1103,925 1107,929 1111.6,932.4 C1115,935 1120,938 1124.2,940.8" stroke="#a8a8a8" stroke-width="1.4"  fill="none"/>
<path d="M1124.2,940.8 C1126,943 1126.5,945 1125.6,947 C1124,949.5 1122,951 1120,952 C1112,957 1102,963 1092,970.2 C1078,978 1064,985 1050,991.2 C1038,996 1025,999.5 1015,1001 C1011,1001 1008,1000 1006.6,998.2 C1005.5,995 1005.5,990 1005.2,985.6 C1004.5,980 1003,975 1001,971.6 C998,967 995,963.5 991.2,960.4 C987,957.5 984,956 980,954.1 C975,951 971,947 969.5,943.5 C969,939.5 971,935 975,931 C977,929 978.5,927 980,925.4" stroke="#5f5f5f" stroke-width="4.6"  fill="none"/>
<path d="M980,925.4 C990,920 1000,915 1008,912.8 C1020,907 1032,902 1043,898.8 C1052,895.5 1058,893 1064,891.8 C1068,890.5 1072,889.7 1075.2,889.7 C1079,890 1081.5,890.5 1083.6,891.8 C1086,895 1088,897.5 1089.2,900.2 C1090.5,904 1091,907 1092,910 C1094,914 1096,917.5 1099,921.2 C1103,925 1107,929 1111.6,932.4 C1115,935 1120,938 1124.2,940.8" stroke="#9a9a9a" stroke-width="1.6"  fill="none"/>
<path d="M1105,930 C1107,935 1108,938 1108,941" stroke="#a8a8a8" stroke-width="1.1"  fill="none"/>
<path d="M1113,935 C1116,939 1117,942 1117,945" stroke="#a8a8a8" stroke-width="1.1"  fill="none"/>
<path d="M1009,994 C1011,997 1013,998 1016,1000" stroke="#a8a8a8" stroke-width="1.1"  fill="none"/>
<path d="M1559.6,936.5 C1565,934 1572,931 1578.2,929.2 C1585,925 1590,921 1594.7,915.8 C1599,908 1603,898 1607.2,891 C1610,887.5 1612.5,886 1615.4,885.8 C1619,885.5 1622.5,885.8 1625.8,886.8 C1640,895 1660,908 1677.5,919.9 C1690,929 1702,939 1710,946 C1713,949 1713.5,953 1712.6,957.2 C1710,961 1706,963.5 1702.3,965.4 C1694,970 1685,975 1677.5,979.9 C1673,984 1670,989 1669.2,994.4 C1668,1000 1667.5,1006 1667.1,1010.9 C1665.5,1013.5 1663,1014.2 1660.9,1014 C1658,1013.5 1655,1012.5 1652.6,1010.9 C1637,1000 1622,988 1607.2,977.8 C1602,972 1598,968 1594.7,965.4 C1580,956 1568,948 1560,941 C1558.5,939.5 1558.5,938 1559.6,936.5 Z" stroke="none" stroke-width="0" fill="#fff"/>
<path d="M1559.6,936.5 C1565,934 1572,931 1578.2,929.2 C1585,925 1590,921 1594.7,915.8 C1599,908 1603,898 1607.2,891 C1610,887.5 1612.5,886 1615.4,885.8 C1619,885.5 1622.5,885.8 1625.8,886.8 C1640,895 1660,908 1677.5,919.9" stroke="#9a9a9a" stroke-width="1.6"  fill="none"/>
<path d="M1677.5,919.9 C1690,929 1702,939 1710,946 C1713,949 1713.5,953 1712.6,957.2 C1710,961 1706,963.5 1702.3,965.4 C1694,970 1685,975 1677.5,979.9 C1673,984 1670,989 1669.2,994.4 C1668,1000 1667.5,1006 1667.1,1010.9 C1665.5,1013.5 1663,1014.2 1660.9,1014 C1658,1013.5 1655,1012.5 1652.6,1010.9 C1637,1000 1622,988 1607.2,977.8 C1602,972 1598,968 1594.7,965.4 C1580,956 1568,948 1560,941 C1558.5,939.5 1558.5,938 1559.6,936.5" stroke="#5f5f5f" stroke-width="4.6"  fill="none"/>
<path d="M1578,929 C1575,935 1573,939 1572,943" stroke="#a8a8a8" stroke-width="1.1"  fill="none"/>
<path d="M1590,920 C1588,926 1586,931 1585,935" stroke="#a8a8a8" stroke-width="1.1"  fill="none"/>
<path d="M1662,1005 C1665,1008 1667,1010 1668,1012" stroke="#a8a8a8" stroke-width="1.1"  fill="none"/>
<g transform="translate(1063.75,135.75) rotate(0)"><text transform="scale(0.96,1)" x="-1.82" font-weight="bold" font-size="52">2</text><text transform="scale(0.96,1)" x="27.45" font-weight="bold" font-size="52">7</text><text transform="scale(0.96,1)" x="56.72" font-weight="bold" font-size="52">8</text><text transform="scale(1.1951,1)" x="68.91" font-size="50">cm</text></g>
<g transform="translate(214.5,192.8) rotate(-11.4)"><path d="M3.60,-35.8 L13.95,-35.8 L13.95,0 L6.98,0 L6.98,-29.9 L0.00,-30.4 Z" fill="#000" stroke="none"/><text transform="scale(0.96,1)" x="25.80" font-weight="bold" font-size="52">6</text><path d="M59.80,-35.8 L70.15,-35.8 L70.15,0 L63.18,0 L63.18,-29.9 L56.20,-30.4 Z" fill="#000" stroke="none"/><text transform="scale(1.1772,1)" x="67.65" font-size="50">cm</text></g>
<g transform="translate(120.8,436.2) rotate(8.2)"><text transform="scale(0.96,1)" x="-1.30" font-weight="bold" font-size="52">3</text><text transform="scale(0.96,1)" x="27.97" font-weight="bold" font-size="52">4</text><text transform="scale(1.1691,1)" x="47.27" font-size="50">cm</text></g>
<g transform="translate(384.5,438.8) rotate(3.3)"><text transform="scale(0.96,1)" x="-1.56" font-weight="bold" font-size="52">8</text><text transform="scale(0.96,1)" x="27.71" font-weight="bold" font-size="52">3</text><text transform="scale(1.1789,1)" x="46.52" font-size="50">cm</text></g>
<g transform="translate(651.8,445.7) rotate(-21.4)"><path d="M3.60,-35.8 L13.95,-35.8 L13.95,0 L6.98,0 L6.98,-29.9 L0.00,-30.4 Z" fill="#000" stroke="none"/><text transform="scale(0.96,1)" x="25.80" font-weight="bold" font-size="52">3</text><text transform="scale(0.96,1)" x="55.08" font-weight="bold" font-size="52">0</text><text transform="scale(1.1789,1)" x="67.73" font-size="50">cm</text></g>
<g transform="translate(1107,430.3) rotate(-29)"><text transform="scale(0.96,1)" x="-1.82" font-weight="bold" font-size="52">6</text><text transform="scale(0.96,1)" x="27.45" font-weight="bold" font-size="52">4</text><text transform="scale(1.2033,1)" x="44.54" font-size="50">cm</text></g>
<g transform="translate(1244.8,214.4) rotate(94.5)"><text transform="scale(0.96,1)" x="-0.78" font-weight="bold" font-size="52">4</text><text transform="scale(0.96,1)" x="28.49" font-weight="bold" font-size="52">0</text><text transform="scale(1.1545,1)" x="48.50" font-size="50">cm</text></g>
<g transform="translate(1309.4,424.2) rotate(3.6)"><path d="M3.60,-35.8 L13.95,-35.8 L13.95,0 L6.98,0 L6.98,-29.9 L0.00,-30.4 Z" fill="#000" stroke="none"/><text transform="scale(0.96,1)" x="25.80" font-weight="bold" font-size="52">2</text><text transform="scale(0.96,1)" x="55.08" font-weight="bold" font-size="52">8</text><text transform="scale(1.1740,1)" x="68.10" font-size="50">cm</text></g>
<g transform="translate(1670.7,480.4) rotate(-59)"><text transform="scale(0.96,1)" x="-1.82" font-weight="bold" font-size="52">9</text><text transform="scale(0.96,1)" x="27.45" font-weight="bold" font-size="52">2</text><text transform="scale(1.1220,1)" x="50.14" font-size="50">cm</text></g>
<g transform="translate(1147.2,493.3) rotate(90)"><text transform="scale(0.96,1)" x="-0.78" font-weight="bold" font-size="52">4</text><path d="M34.28,-35.8 L44.63,-35.8 L44.63,0 L37.66,0 L37.66,-29.9 L30.68,-30.4 Z" fill="#000" stroke="none"/><text transform="scale(1.1789,1)" x="46.86" font-size="50">cm</text></g>
<g transform="translate(1802.4,426.8) rotate(90)"><text transform="scale(0.96,1)" x="-0.78" font-weight="bold" font-size="52">4</text><text transform="scale(0.96,1)" x="28.49" font-weight="bold" font-size="52">5</text><text transform="scale(0.96,1)" x="58.82" font-weight="bold" font-size="52">-</text><text transform="scale(0.96,1)" x="77.55" font-weight="bold" font-size="52">6</text><text transform="scale(0.96,1)" x="106.82" font-weight="bold" font-size="52">0</text><text transform="scale(1.1707,1)" x="113.65" font-size="50">cm</text></g>
<g transform="translate(1861.7,451.6) rotate(90)"><text transform="scale(0.96,1)" x="-2.34" font-weight="bold" font-size="52">7</text><text transform="scale(0.96,1)" x="26.93" font-weight="bold" font-size="52">6</text><text transform="scale(1.1854,1)" x="44.65" font-size="50">cm</text></g>
<g transform="translate(330.9,592.8) rotate(90)"><text transform="scale(0.96,1)" x="-1.56" font-weight="bold" font-size="52">5</text><text transform="scale(1.1919,1)" x="22.50" font-size="50">cm</text></g>
<g transform="translate(376.5,756.3) rotate(5.7)"><path d="M3.60,-35.8 L13.95,-35.8 L13.95,0 L6.98,0 L6.98,-29.9 L0.00,-30.4 Z" fill="#000" stroke="none"/><path d="M31.70,-35.8 L42.05,-35.8 L42.05,0 L35.08,0 L35.08,-29.9 L28.10,-30.4 Z" fill="#000" stroke="none"/><text transform="scale(0.96,1)" x="55.08" font-weight="bold" font-size="52">9</text><text transform="scale(1.1821,1)" x="67.62" font-size="50">cm</text></g>
<g transform="translate(813.5,1130.5) rotate(-90)"><path d="M3.60,-35.8 L13.95,-35.8 L13.95,0 L6.98,0 L6.98,-29.9 L0.00,-30.4 Z" fill="#000" stroke="none"/><text transform="scale(0.96,1)" x="25.80" font-weight="bold" font-size="52">6</text><path d="M59.80,-35.8 L70.15,-35.8 L70.15,0 L63.18,0 L63.18,-29.9 L56.20,-30.4 Z" fill="#000" stroke="none"/><text transform="scale(1.1919,1)" x="66.46" font-size="50">cm</text></g>
<g transform="translate(897.5,1132.9) rotate(-90)"><path d="M3.60,-35.8 L13.95,-35.8 L13.95,0 L6.98,0 L6.98,-29.9 L0.00,-30.4 Z" fill="#000" stroke="none"/><text transform="scale(0.96,1)" x="25.80" font-weight="bold" font-size="52">5</text><path d="M59.80,-35.8 L70.15,-35.8 L70.15,0 L63.18,0 L63.18,-29.9 L56.20,-30.4 Z" fill="#000" stroke="none"/><text transform="scale(1.1707,1)" x="68.81" font-size="50">cm</text></g>
<g transform="translate(1202.1,959.7) rotate(90)"><path d="M3.60,-35.8 L13.95,-35.8 L13.95,0 L6.98,0 L6.98,-29.9 L0.00,-30.4 Z" fill="#000" stroke="none"/><text transform="scale(0.96,1)" x="25.80" font-weight="bold" font-size="52">3</text><text transform="scale(0.96,1)" x="55.08" font-weight="bold" font-size="52">0</text><text transform="scale(1.1967,1)" x="66.35" font-size="50">cm</text></g>
<g transform="translate(1387.6,906) rotate(90)"><text transform="scale(0.96,1)" x="-1.82" font-weight="bold" font-size="52">6</text><text transform="scale(0.96,1)" x="27.45" font-weight="bold" font-size="52">4</text><text transform="scale(1.1886,1)" x="45.11" font-size="50">cm</text></g>
<g transform="translate(1831,881.9) rotate(90)"><text transform="scale(0.96,1)" x="-1.82" font-weight="bold" font-size="52">9</text><text transform="scale(0.96,1)" x="27.45" font-weight="bold" font-size="52">2</text><text transform="scale(1.1886,1)" x="44.69" font-size="50">cm</text></g>
<g transform="translate(1026.8,1151.5) rotate(0)"><text transform="scale(0.96,1)" x="-1.56" font-weight="bold" font-size="52">8</text><text transform="scale(0.96,1)" x="27.71" font-weight="bold" font-size="52">3</text><text transform="scale(1.1919,1)" x="46.16" font-size="50">cm</text></g>
<g transform="translate(1493.5,1046.1) rotate(0)"><path d="M3.60,-35.8 L13.95,-35.8 L13.95,0 L6.98,0 L6.98,-29.9 L0.00,-30.4 Z" fill="#000" stroke="none"/><text transform="scale(0.96,1)" x="25.80" font-weight="bold" font-size="52">2</text><text transform="scale(0.96,1)" x="55.08" font-weight="bold" font-size="52">8</text><text transform="scale(1.1935,1)" x="67.29" font-size="50">cm</text></g>
<g transform="translate(1672,1078.2) rotate(0)"><text transform="scale(0.96,1)" x="-1.30" font-weight="bold" font-size="52">3</text><text transform="scale(0.96,1)" x="27.97" font-weight="bold" font-size="52">4</text><text transform="scale(1.2163,1)" x="44.04" font-size="50">cm</text></g>
<g transform="translate(1022.8,1275) rotate(0)"><path d="M3.60,-35.8 L13.95,-35.8 L13.95,0 L6.98,0 L6.98,-29.9 L0.00,-30.4 Z" fill="#000" stroke="none"/><path d="M31.70,-35.8 L42.05,-35.8 L42.05,0 L35.08,0 L35.08,-29.9 L28.10,-30.4 Z" fill="#000" stroke="none"/><text transform="scale(0.96,1)" x="55.08" font-weight="bold" font-size="52">9</text><text transform="scale(1.2146,1)" x="65.02" font-size="50">cm</text></g>
<g transform="translate(1305.4,1408.5) rotate(0)"><text transform="scale(0.96,1)" x="-1.82" font-weight="bold" font-size="52">2</text><text transform="scale(0.96,1)" x="27.45" font-weight="bold" font-size="52">7</text><text transform="scale(0.96,1)" x="56.72" font-weight="bold" font-size="52">8</text><text transform="scale(1.2146,1)" x="68.31" font-size="50">cm</text></g>
</svg></body></html>
